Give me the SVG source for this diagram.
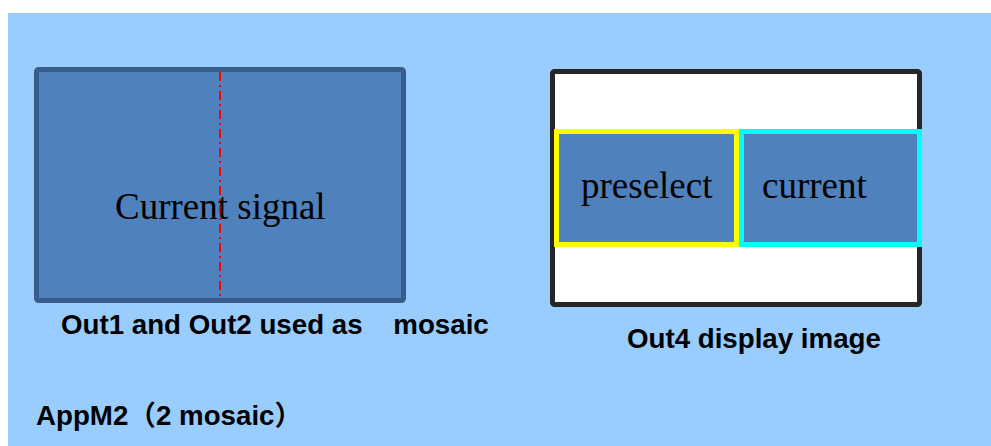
<svg xmlns="http://www.w3.org/2000/svg" width="991" height="446" viewBox="0 0 991 446">
  <style>
    .serif { font-family: "Liberation Serif", "Times New Roman", serif; font-size: 37px; fill: #000; }
    .label { font-family: "Liberation Sans", Arial, "Noto Sans CJK SC", sans-serif; font-weight: bold; font-size: 27.7px; fill: #000; white-space: pre; }
    .panel { fill: #4f81bd; }
  </style>

  <!-- page background -->
  <rect x="0" y="0" width="991" height="446" fill="#ffffff"/>
  <rect x="8" y="13" width="983" height="433" fill="#99ccff"/>

  <!-- mosaic output: Out1 + Out2 -->
  <g id="mosaic-output">
    <rect class="panel" x="36.5" y="69.5" width="367" height="231" rx="2" stroke="#385d8a" stroke-width="5"/>
    <line x1="220" y1="72" x2="220" y2="298" stroke="#ff0000" stroke-width="2" stroke-dasharray="9 4 2 4"/>
    <text class="serif" x="115" y="219">Current signal</text>
  </g>

  <!-- display output: Out4 -->
  <g id="display-output">
    <rect x="552.5" y="71.5" width="367" height="233" rx="2" fill="#ffffff" stroke="#262626" stroke-width="5"/>
  </g>

  <g id="preselect">
    <rect class="panel" x="556.5" y="131.5" width="180" height="113" stroke="#ffff00" stroke-width="5"/>
    <text class="serif" x="581" y="198">preselect</text>
  </g>

  <g id="current">
    <rect class="panel" x="741.5" y="131.5" width="178" height="113" stroke="#00ffff" stroke-width="5"/>
    <text class="serif" x="762" y="198">current</text>
  </g>

  <!-- captions -->
  <g id="captions">
    <text class="label" x="61" y="334">Out1 and Out2 used as    mosaic</text>
    <text class="label" x="627" y="348">Out4 display image</text>
    <text class="label" x="36" y="425">AppM2（2 mosaic）</text>
  </g>
</svg>
